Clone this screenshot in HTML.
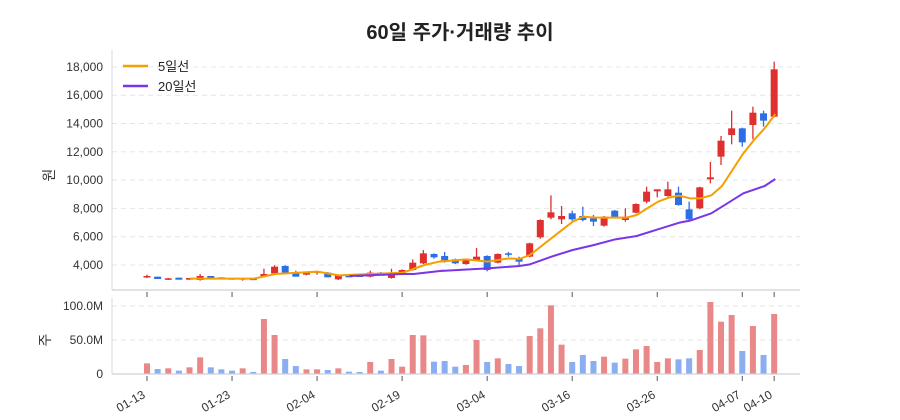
<!DOCTYPE html>
<html><head><meta charset="utf-8"><style>
html,body{margin:0;padding:0;background:#fff;}
svg{display:block;font-family:"Liberation Sans","Noto Sans CJK KR",sans-serif;}
</style></head><body>
<svg id="s" width="900" height="420" viewBox="0 0 900 420" xmlns="http://www.w3.org/2000/svg">
<text x="460" y="39" text-anchor="middle" font-size="20" font-weight="bold" fill="#222">60일 주가·거래량 추이</text>
<g id="grid" stroke="#e6e6e6" stroke-dasharray="5,4" stroke-width="1"></g>
<g font-size="12" fill="#333" text-anchor="end" id="ylab"></g>
<line x1="112" y1="50" x2="112" y2="290" stroke="#d5d8e0"/>
<line x1="112" y1="290" x2="800" y2="290" stroke="#d5d8e0" stroke-width="1.5"/>
<line x1="112" y1="298" x2="112" y2="374" stroke="#d5d8e0"/>
<line x1="112" y1="374" x2="800" y2="374" stroke="#d5d8e0" stroke-width="1.5"/>
<text transform="translate(54,175) rotate(-90)" font-size="14" fill="#333" text-anchor="middle">원</text>
<text transform="translate(50,340) rotate(-90)" font-size="14" fill="#333" text-anchor="middle">주</text>
<g id="c"></g>
<g id="xt"></g>
<line x1="123" y1="66" x2="148" y2="66" stroke="#f59f00" stroke-width="2.5"/>
<text x="158" y="71" font-size="13" fill="#222">5일선</text>
<line x1="123" y1="86" x2="148" y2="86" stroke="#7b35e8" stroke-width="2.5"/>
<text x="158" y="91" font-size="13" fill="#222">20일선</text>
</svg>
<script>
var NS="http://www.w3.org/2000/svg",s=document.getElementById('s');
function el(p,t,a,txt){var e=document.createElementNS(NS,t);for(var k in a)e.setAttribute(k,a[k]);if(txt)e.textContent=txt;p.appendChild(e);return e;}
var g=document.getElementById('grid'),yl=document.getElementById('ylab');
for(var v=4000;v<=18000;v+=2000){var y=265-(v-4000)*0.01415;el(g,'line',{x1:112,y1:y,x2:800,y2:y});el(yl,'text',{x:103,y:y+4},v.toLocaleString('en-US'));}
[[306,'100.0M'],[340,'50.0M'],[374,'0']].forEach(function(a){if(a[1]!='0')el(g,'line',{x1:112,y1:a[0],x2:800,y2:a[0]});el(yl,'text',{x:103,y:a[0]+4},a[1]);});
var d=[
[1,'r',678,682,674,684,940],[1,'b',680,687,680,687,957],[1,'r',685,688,684,690,955],[1,'b',683,689,683,689,962],[1,'r',684,689,684,690,952],
[1,'r',678,690,672,692,922],[1,'b',678,686,678,686,952],[1,'b',682,685,682,685,958],[1,'b',684,689,684,689,962],[1,'r',684,689,684,692,955],
[1,'b',686,690,686,690,966],[1,'r',672,680,656,682,807],[1,'r',650,670,646,670,855],[1,'b',648,668,646,668,927],[1,'b',666,680,662,680,948],
[1,'r',668,674,666,676,958],[1,'r',664,667,662,674,958],[1,'b',668,682,666,682,960],[1,'r',676,688,674,690,955],[1,'b',676,682,676,682,965],
[1,'b',676,681,676,681,966],[1,'r',668,680,662,682,936],[1,'b',668,676,666,676,962],[1,'r',668,684,656,686,927],[1,'r',660,670,658,672,950],
[1,'r',638,660,628,662,855],[1,'r',610,640,600,642,856],[1,'b',612,622,610,626,935],
[2,'b',618,636,606,638,933],[2,'b',628,640,626,642,950],[2,'r',628,642,626,644,945],[2,'r',620,630,594,632,870],[2,'b',618,660,616,664,936],
[2,'r',612,638,610,640,925],[2,'b',610,614,606,620,942],[2,'b',625,635,620,645,948],[2,'r',580,620,578,622,858],[2,'r',510,562,508,566,835],
[2,'r',487,503,436,508,766],[2,'r',498,508,468,522,884],[2,'b',490,508,482,512,936],[2,'b',498,510,470,514,915],[2,'b',505,515,495,528,933],
[2,'r',500,527,498,530,920],[2,'b',482,502,480,504,938],[2,'r',500,510,475,515,926],[2,'r',462,488,460,490,898],[2,'r',425,455,410,460,888],
[2,'r',418,424,418,442,936],[2,'r',418,438,395,440,925],[2,'b',428,465,410,467,928],[2,'b',478,508,455,510,925],[2,'r',412,475,410,478,900],
[2,'r',382,388,336,400,756],[2,'r',272,320,258,345,815],[2,'r',235,255,182,283,795],[2,'b',235,277,233,290,903],[2,'r',188,225,170,268,828],
[2,'b',190,212,182,230,915],[2,'r',58,200,35,202,792]];
var c=document.getElementById('c');
function Y(p){return 50+p/3;}
d.forEach(function(a,i){var x=147+10.63*i,col=a[1]=='r'?'#df2f2f':'#2c6ee6',vc=a[1]=='r'?'#e88888':'#8aaef0';
el(c,'rect',{x:x-3,y:Y(a[6]),width:6,height:373.5-Y(a[6]),fill:vc});
el(c,'line',{x1:x,y1:Y(a[4]),x2:x,y2:Y(a[5]),stroke:col,'stroke-width':1.3});
var t=Y(a[2]),b=Y(a[3]);if(b-t<1.5)b=t+1.5;el(c,'rect',{x:x-3.5,y:t,width:7,height:b-t,fill:col});});
function pl(pts1,pts2,col){var p=[];pts1.forEach(function(q){p.push((100+q[0]/3)+','+Y(q[1]));});pts2.forEach(function(q){p.push((440+q[0]/3)+','+Y(q[1]));});
el(c,'polyline',{points:p.join(' '),fill:'none',stroke:col,'stroke-width':2,'stroke-linejoin':'round'});}
pl([[269,686],[461,686],[525,672],[653,665],[717,676],[909,668],[973,645],[1030,632]],[[0,635],[78,628],[142,635],[206,625],[238,627],[270,615],[334,565],[398,515],[430,500],[462,503],[558,503],[590,495],[654,455],[686,443],[718,437],[750,445],[782,445],[814,436],[846,408],[910,310],[942,270],[974,235],[1006,192]],'#f59f00');
pl([[749,678],[909,672],[941,672],[1030,662]],[[0,663],[142,655],[238,648],[270,643],[334,620],[398,600],[462,585],[526,568],[590,558],[654,538],[718,518],[750,512],[814,490],[846,470],[910,430],[974,408],[1006,387]],'#7b35e8');
var xt=document.getElementById('xt');
[[0,'01-13'],[8,'01-23'],[16,'02-04'],[24,'02-19'],[32,'03-04'],[40,'03-16'],[48,'03-26'],[56,'04-07'],[59,'04-10']].forEach(function(a){var x=147+10.63*a[0];
el(xt,'line',{x1:x,y1:292,x2:x,y2:297,stroke:'#555'});el(xt,'line',{x1:x,y1:376,x2:x,y2:381,stroke:'#555'});
el(xt,'text',{transform:'translate('+(x-1)+',397) rotate(-30)','text-anchor':'end','font-size':12,fill:'#333'},a[1]);});
</script>
</body></html>
